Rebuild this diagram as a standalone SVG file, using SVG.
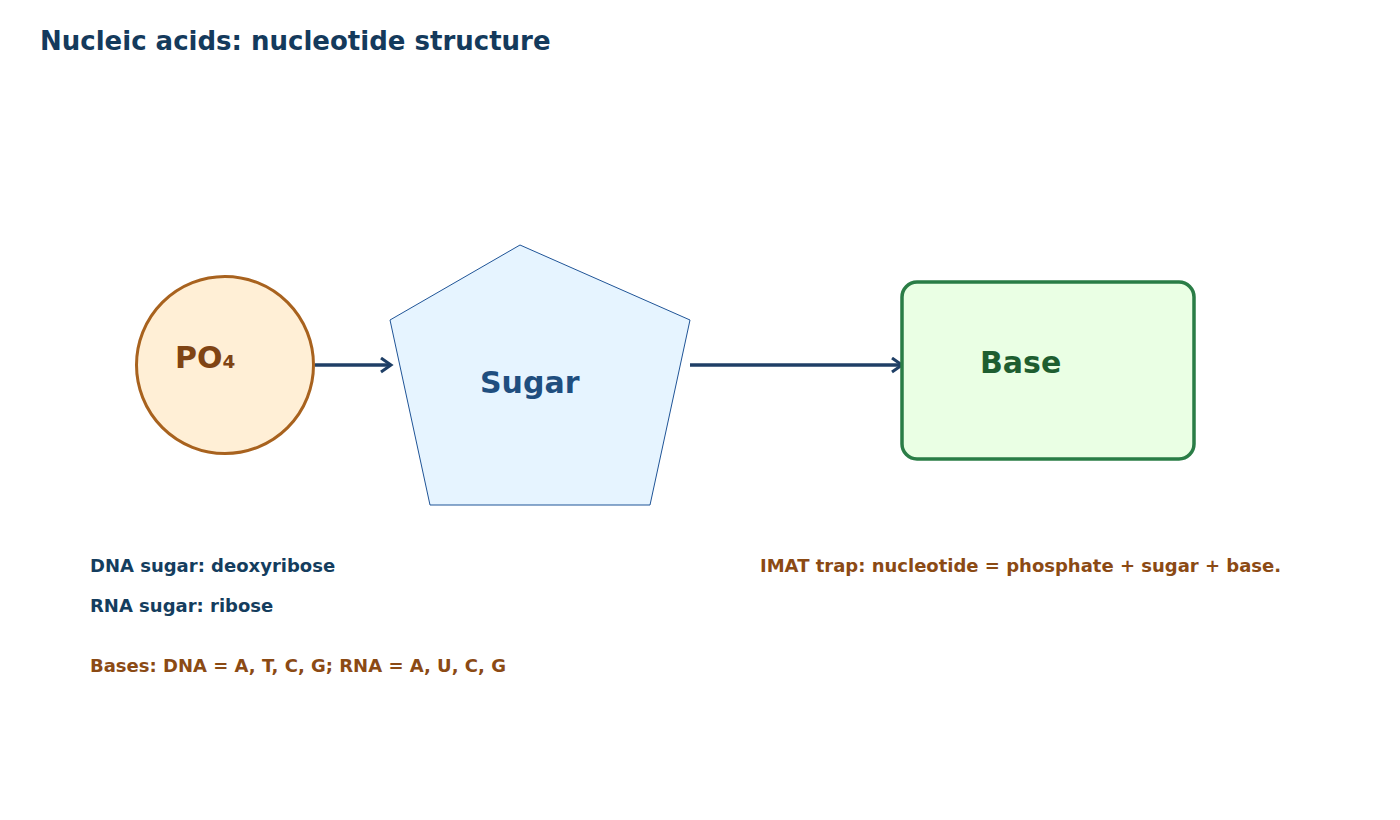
<svg xmlns="http://www.w3.org/2000/svg" width="1400" height="820" viewBox="0 0 1400 820">
<style>
text{font-family:"DejaVu Sans",Verdana,sans-serif;font-weight:bold}
.title{font-size:26px;fill:#143a5c}
.lbl{font-size:30px}
.note{font-size:18px}
.navy{fill:#143d5e}
.brown{fill:#8b4a14}
.conn{stroke:#1f3f66;stroke-width:3.5;fill:none}
</style>
<defs>
<marker id="arr" markerUnits="userSpaceOnUse" markerWidth="16" markerHeight="20" refX="12" refY="8" orient="auto">
<path d="M2,1 L12,8 L2,15" fill="none" stroke="#1f3f66" stroke-width="3"/>
</marker>
</defs>
<rect width="1400" height="820" fill="#ffffff"/>
<text class="title" x="40" y="50">Nucleic acids: nucleotide structure</text>
<g id="connectors">
<line class="conn" x1="315" y1="365" x2="391" y2="365" marker-end="url(#arr)"/>
<line class="conn" x1="690" y1="365" x2="902" y2="365" marker-end="url(#arr)"/>
</g>
<g id="phosphate">
<circle cx="225" cy="365" r="88.5" fill="#ffefd6" stroke="#a8621e" stroke-width="3"/>
<text class="lbl" x="175" y="368" fill="#7f4414">PO₄</text>
</g>
<g id="sugar">
<polygon points="520,245 690,320 650,505 430,505 390,320" fill="#e6f4ff" stroke="#1f5497" stroke-width="1"/>
<text class="lbl" x="480" y="393" fill="#1f4e7f">Sugar</text>
</g>
<g id="base">
<rect x="902" y="282" width="292" height="177" rx="15" fill="#eaffe4" stroke="#2a7d46" stroke-width="3.5"/>
<text class="lbl" x="980" y="373" fill="#1e5e30">Base</text>
</g>
<g id="notes">
<text class="note navy" x="90" y="572">DNA sugar: deoxyribose</text>
<text class="note navy" x="90" y="612">RNA sugar: ribose</text>
<text class="note brown" x="90" y="672">Bases: DNA = A, T, C, G; RNA = A, U, C, G</text>
<text class="note brown" x="760" y="572">IMAT trap: nucleotide = phosphate + sugar + base.</text>
</g>
</svg>
